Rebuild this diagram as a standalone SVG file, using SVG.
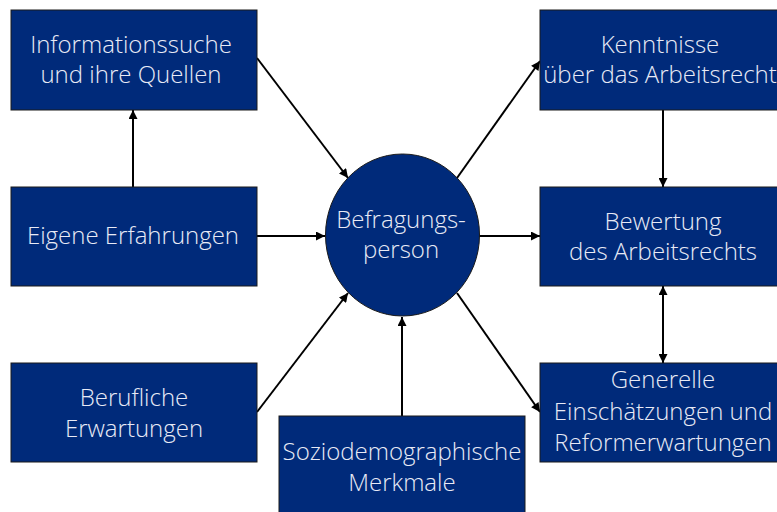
<svg xmlns="http://www.w3.org/2000/svg" width="777" height="512" viewBox="0 0 777 512">
<defs>
<marker id="ah" viewBox="0 0 10 10" refX="10" refY="5" markerWidth="10" markerHeight="9" markerUnits="userSpaceOnUse" orient="auto-start-reverse">
<path d="M0,0 L10,5 L0,10 z" fill="#000"/>
</marker>
<style>
.box{fill:#002a7a;stroke:#1a1a1a;stroke-width:1}
.t{font-family:"Open Sans","Noto Sans","Liberation Sans",sans-serif;font-size:24px;fill:#e8eaf6;text-anchor:middle;font-weight:300}
.c{stroke:#000;stroke-width:2;fill:none;marker-end:url(#ah)}
</style>
</defs>
<rect width="777" height="512" fill="#fff"/>
<g id="connectors">
<line class="c" x1="133" y1="187" x2="133" y2="110"/>
<line class="c" x1="257" y1="58" x2="348" y2="178"/>
<line class="c" x1="257" y1="236" x2="325" y2="236"/>
<line class="c" x1="257" y1="412" x2="348" y2="293"/>
<line class="c" x1="402" y1="416" x2="402" y2="317"/>
<line class="c" x1="457" y1="178" x2="540" y2="61"/>
<line class="c" x1="479" y1="236" x2="540" y2="236"/>
<line class="c" x1="457" y1="293" x2="540" y2="412"/>
<line class="c" x1="663" y1="110" x2="663" y2="187"/>
<line class="c" x1="663" y1="286" x2="663" y2="363" style="marker-start:url(#ah)"/>
</g>
<g id="n-info">
<rect class="box" x="11" y="10" width="246" height="100"/>
<text class="t" x="131" y="53">Informationssuche</text>
<text class="t" x="131" y="83">und ihre Quellen</text>
</g>
<g id="n-eigene">
<rect class="box" x="11" y="187" width="246" height="99"/>
<text class="t" x="133" y="244">Eigene Erfahrungen</text>
</g>
<g id="n-beruf">
<rect class="box" x="11" y="363" width="246" height="99"/>
<text class="t" x="134" y="406">Berufliche</text>
<text class="t" x="134" y="437">Erwartungen</text>
</g>
<g id="n-sozio">
<rect class="box" x="279" y="416" width="246" height="100"/>
<text class="t" x="402" y="460">Soziodemographische</text>
<text class="t" x="402" y="491">Merkmale</text>
</g>
<g id="n-person">
<ellipse cx="402.5" cy="235" rx="77" ry="81" fill="#002a7a" stroke="#1a1a1a" stroke-width="1"/>
<text class="t" x="401" y="228">Befragungs-</text>
<text class="t" x="401" y="258">person</text>
</g>
<g id="n-kenntnisse">
<rect class="box" x="540" y="10" width="246" height="100"/>
<text class="t" x="660" y="53">Kenntnisse</text>
<text class="t" x="660" y="83">über das Arbeitsrecht</text>
</g>
<g id="n-bewertung">
<rect class="box" x="540" y="187" width="246" height="99"/>
<text class="t" x="663" y="230">Bewertung</text>
<text class="t" x="663" y="260">des Arbeitsrechts</text>
</g>
<g id="n-generelle">
<rect class="box" x="540" y="363" width="246" height="99"/>
<text class="t" x="663" y="388">Generelle</text>
<text class="t" x="663" y="420">Einschätzungen und</text>
<text class="t" x="663" y="451">Reformerwartungen</text>
</g>
</svg>
